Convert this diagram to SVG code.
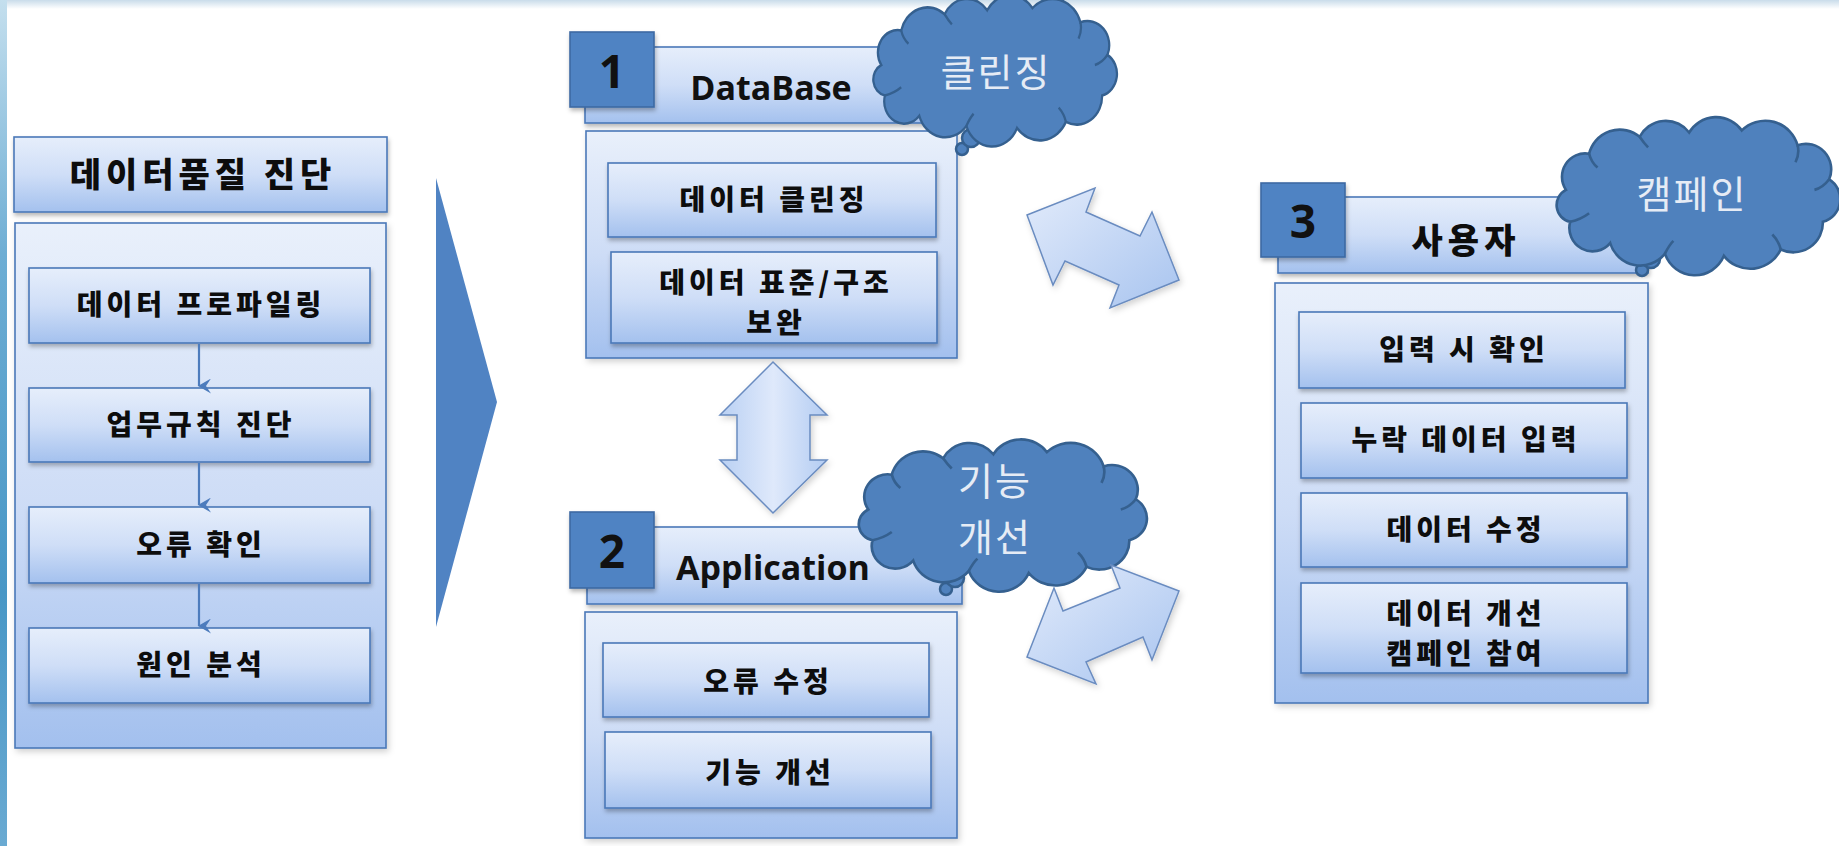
<svg xmlns="http://www.w3.org/2000/svg" width="1839" height="846" viewBox="0 0 1839 846">
  <defs>
    <linearGradient id="boxFill" x1="0" y1="0" x2="0" y2="1">
      <stop offset="0" stop-color="#e6eefb"/>
      <stop offset="0.5" stop-color="#cfdef7"/>
      <stop offset="1" stop-color="#a4c1ee"/>
    </linearGradient>
    <linearGradient id="panelFill" x1="0" y1="0" x2="0" y2="1">
      <stop offset="0" stop-color="#e9f0fb"/>
      <stop offset="0.55" stop-color="#cddcf6"/>
      <stop offset="1" stop-color="#a3c0ee"/>
    </linearGradient>
    <linearGradient id="arrowFill" x1="0" y1="0" x2="1" y2="1">
      <stop offset="0" stop-color="#e2ebfb"/>
      <stop offset="1" stop-color="#a8c4ef"/>
    </linearGradient>
    <linearGradient id="vArrowFill" x1="0" y1="0" x2="1" y2="0">
      <stop offset="0" stop-color="#b9d0f3"/>
      <stop offset="0.5" stop-color="#dfe9fb"/>
      <stop offset="1" stop-color="#b3ccf2"/>
    </linearGradient>
    <linearGradient id="edgeStrip" x1="0" y1="0" x2="0" y2="1">
      <stop offset="0" stop-color="#c4dfee"/>
      <stop offset="0.3" stop-color="#6eaed4"/>
      <stop offset="0.7" stop-color="#4897c6"/>
      <stop offset="1" stop-color="#6aaad2"/>
    </linearGradient>
    <linearGradient id="topBand" x1="0" y1="0" x2="0" y2="1">
      <stop offset="0" stop-color="#c9dcea"/>
      <stop offset="1" stop-color="#ffffff"/>
    </linearGradient>
    <filter id="shadow" x="-10%" y="-10%" width="120%" height="130%">
      <feDropShadow dx="1" dy="3" stdDeviation="2" flood-color="#000" flood-opacity="0.28"/>
    </filter>
    <filter id="softShadow" x="-10%" y="-10%" width="125%" height="130%">
      <feDropShadow dx="2" dy="3" stdDeviation="3" flood-color="#000" flood-opacity="0.18"/>
    </filter>
    <marker id="arrowHead" markerWidth="15" markerHeight="13" refX="7.5" refY="12" orient="auto-start-reverse" markerUnits="userSpaceOnUse" viewBox="0 0 15 13">
      <path d="M0,0 L7.5,5 L15,0 L7.5,13 Z" fill="#4d7cbd"/>
    </marker>
    <path id="cloudShape" d="M18,62 A22,22 0 0 1 40,28 A30,30 0 0 1 88,12 A28,28 0 0 1 135,8 A30,30 0 0 1 185,6 A32,32 0 0 1 238,20 A24,24 0 0 1 268,52 A22,22 0 0 1 262,92 A28,28 0 0 1 222,118 A32,32 0 0 1 168,124 A30,30 0 0 1 112,122 A30,30 0 0 1 60,112 A22,22 0 0 1 22,92 A16,16 0 0 1 18,62 Z"/>
    <path id="cloudFolds" d="M40,28 Q42,36 48,41 M88,12 Q92,18 96,22 M238,20 Q240,28 236,36 M268,52 Q262,60 254,62 M222,118 Q220,110 214,104 M112,122 Q116,114 120,110 M22,92 Q32,90 40,84"/>
  </defs>
  <style>
    .box { fill: url(#boxFill); stroke: #4a78b8; stroke-width: 1.6; filter: url(#shadow); }
    .panel { fill: url(#panelFill); stroke: #4a78b8; stroke-width: 1.6; filter: url(#softShadow); }
    .badge { fill: #5083c3; stroke: #3d69a3; stroke-width: 1.6; filter: url(#shadow); }
    .label { font-family: "Noto Sans CJK KR", "Noto Sans", sans-serif; font-weight: 900; fill: #0d0d0d; text-anchor: middle; }
    .item { font-size: 28px; letter-spacing: 4px; }
    .head { font-size: 34px; letter-spacing: 5px; }
    .latin { font-family: "Open Sans", "Noto Sans", sans-serif; font-weight: 700; fill: #111; text-anchor: middle; font-size: 34px; }
    .num { font-family: "Open Sans", "Noto Sans", sans-serif; font-weight: 700; fill: #111; text-anchor: middle; font-size: 46px; }
    .cloud { fill: #4f81bd; stroke: #35608f; stroke-width: 2.5; }
    .fold { fill: none; stroke: #35608f; stroke-width: 2.5; }
    .cloudText { font-family: "Noto Sans CJK KR", "Noto Sans", sans-serif; font-weight: 400; fill: #e6ecf5; text-anchor: middle; font-size: 38px; letter-spacing: 2px; }
    .blockArrow { fill: url(#arrowFill); stroke: #6a8cc0; stroke-width: 1.5; stroke-linejoin: miter; filter: url(#softShadow); }
    .flow { stroke: #4d7cbd; stroke-width: 2.2; fill: none; }
  </style>

  <!-- page background and edge trim -->
  <rect x="0" y="0" width="1839" height="846" fill="#ffffff"/>
  <rect x="0" y="0" width="1839" height="9" fill="url(#topBand)"/>
  <rect x="0" y="0" width="7" height="846" fill="url(#edgeStrip)"/>

  <!-- left column: data quality diagnosis -->
  <g id="quality-diagnosis">
    <g id="qd-header">
      <rect class="box" x="14" y="137" width="373" height="75"/>
      <text class="label head" x="203" y="187">데이터품질 진단</text>
    </g>
    <g id="qd-panel">
      <rect class="panel" x="15" y="223" width="371" height="525"/>
    </g>
    <g id="qd-profiling">
      <rect class="box" x="29" y="268" width="341" height="75"/>
      <text class="label item" x="201" y="315">데이터 프로파일링</text>
    </g>
    <g id="qd-rules">
      <rect class="box" x="29" y="388" width="341" height="74"/>
      <text class="label item" x="201" y="435">업무규칙 진단</text>
    </g>
    <g id="qd-errors">
      <rect class="box" x="29" y="507" width="341" height="76"/>
      <text class="label item" x="201" y="555">오류 확인</text>
    </g>
    <g id="qd-cause">
      <rect class="box" x="29" y="628" width="341" height="75"/>
      <text class="label item" x="201" y="675">원인 분석</text>
    </g>
  </g>

  <!-- middle column: database -->
  <g id="database">
    <g id="db-header">
      <rect class="box" x="585" y="47" width="372" height="76"/>
      <text class="latin" x="771" y="100">DataBase</text>
    </g>
    <g id="db-badge">
      <rect class="badge" x="570" y="32" width="84" height="75"/>
      <text class="num" x="612" y="88">1</text>
    </g>
    <g id="db-panel">
      <rect class="panel" x="586" y="131" width="371" height="227"/>
    </g>
    <g id="db-cleansing">
      <rect class="box" x="608" y="163" width="328" height="74"/>
      <text class="label item" x="774" y="210">데이터 클린징</text>
    </g>
    <g id="db-standard">
      <rect class="box" x="611" y="252" width="326" height="91"/>
      <text class="label item" x="776" y="293">데이터 표준/구조</text>
      <text class="label item" x="776" y="333">보완</text>
    </g>
    <g id="db-cloud">
      <circle class="cloud" cx="962" cy="149" r="6"/>
      <circle class="cloud" cx="971" cy="138" r="9"/>
      <g transform="translate(865,2) scale(0.905,1.016)">
        <use href="#cloudShape" class="cloud" vector-effect="non-scaling-stroke"/>
        <use href="#cloudFolds" class="fold" vector-effect="non-scaling-stroke"/>
      </g>
      <text class="cloudText" x="996" y="86">클린징</text>
    </g>
  </g>

  <!-- middle column: application -->
  <g id="application">
    <g id="app-header">
      <rect class="box" x="587" y="527" width="375" height="77"/>
      <text class="latin" x="773" y="580">Application</text>
    </g>
    <g id="app-badge">
      <rect class="badge" x="570" y="512" width="84" height="76"/>
      <text class="num" x="612" y="568">2</text>
    </g>
    <g id="app-panel">
      <rect class="panel" x="585" y="612" width="372" height="226"/>
    </g>
    <g id="app-fix">
      <rect class="box" x="603" y="643" width="326" height="74"/>
      <text class="label item" x="768" y="692">오류 수정</text>
    </g>
    <g id="app-improve">
      <rect class="box" x="605" y="732" width="326" height="76"/>
      <text class="label item" x="770" y="783">기능 개선</text>
    </g>
    <g id="app-cloud">
      <circle class="cloud" cx="946" cy="589" r="6"/>
      <circle class="cloud" cx="955" cy="578" r="9"/>
      <g transform="translate(849,446) scale(1.07,1.024)">
        <use href="#cloudShape" class="cloud" vector-effect="non-scaling-stroke"/>
        <use href="#cloudFolds" class="fold" vector-effect="non-scaling-stroke"/>
      </g>
      <text class="cloudText" x="995" y="495">기능</text>
      <text class="cloudText" x="995" y="551">개선</text>
    </g>
  </g>

  <!-- right column: users -->
  <g id="users">
    <g id="user-header">
      <rect class="box" x="1278" y="197" width="370" height="76"/>
      <text class="label head" x="1466" y="253">사용자</text>
    </g>
    <g id="user-badge">
      <rect class="badge" x="1261" y="183" width="84" height="74"/>
      <text class="num" x="1303" y="238">3</text>
    </g>
    <g id="user-panel">
      <rect class="panel" x="1275" y="283" width="373" height="420"/>
    </g>
    <g id="user-check">
      <rect class="box" x="1299" y="312" width="326" height="76"/>
      <text class="label item" x="1464" y="360">입력 시 확인</text>
    </g>
    <g id="user-missing">
      <rect class="box" x="1301" y="403" width="326" height="75"/>
      <text class="label item" x="1466" y="450">누락 데이터 입력</text>
    </g>
    <g id="user-edit">
      <rect class="box" x="1301" y="493" width="326" height="74"/>
      <text class="label item" x="1466" y="540">데이터 수정</text>
    </g>
    <g id="user-campaign">
      <rect class="box" x="1301" y="583" width="326" height="90"/>
      <text class="label item" x="1466" y="624">데이터 개선</text>
      <text class="label item" x="1466" y="664">캠페인 참여</text>
    </g>
    <g id="user-cloud">
      <circle class="cloud" cx="1642" cy="270" r="6"/>
      <circle class="cloud" cx="1651" cy="259" r="9"/>
      <g transform="translate(1547,124) scale(1.053,1.063)">
        <use href="#cloudShape" class="cloud" vector-effect="non-scaling-stroke"/>
        <use href="#cloudFolds" class="fold" vector-effect="non-scaling-stroke"/>
      </g>
      <text class="cloudText" x="1692" y="208">캠페인</text>
    </g>
  </g>

  <!-- connectors -->
  <g id="connectors">
    <line class="flow" x1="199" y1="344" x2="199" y2="386" marker-end="url(#arrowHead)"/>
    <line class="flow" x1="199" y1="463" x2="199" y2="505" marker-end="url(#arrowHead)"/>
    <line class="flow" x1="199" y1="584" x2="199" y2="626" marker-end="url(#arrowHead)"/>
    <polygon id="flow-wedge" points="436,178 497,402 436,627" fill="#5083c3"/>
    <polygon id="link-db-app" class="blockArrow" style="fill:url(#vArrowFill)" points="773,362 827,415 810,415 810,460 827,460 773,513 720,460 737,460 737,415 720,415"/>
    <polygon id="link-db-user" class="blockArrow" points="1027,215 1095,188 1086,212 1140,236 1152,212 1179,280 1110,308 1119,285 1065,261 1053,285"/>
    <polygon id="link-app-user" class="blockArrow" points="1027,657 1054,588 1063,611 1120,588 1111,565 1179,591 1152,660 1143,637 1086,662 1096,684"/>
  </g>
</svg>
